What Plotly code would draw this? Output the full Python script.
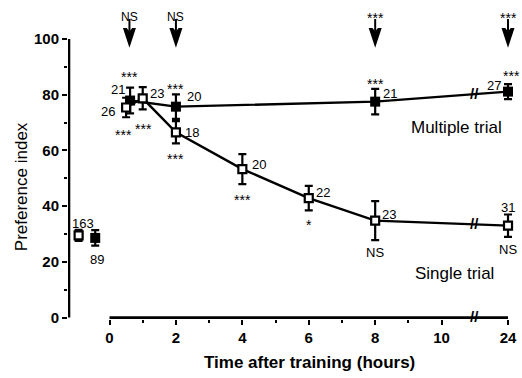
import plotly.graph_objects as go
import numpy as np

# ---------------- data ----------------
single_times = [0.5, 1, 2, 4, 6, 8, 24]
single_pi = [75.4, 78.7, 66.5, 53.3, 42.9, 34.8, 33.0]
single_err = [3.5, 4.0, 4.0, 5.4, 4.4, 7.0, 4.0]
single_n = ["26", "23", "18", "20", "22", "23", "31"]
single_sig = ["***", "***", "***", "***", "*", "NS", "NS"]

multi_times = [0.62, 2, 8, 24]
multi_pi = [77.9, 75.7, 77.5, 81.1]
multi_err = [4.6, 4.4, 4.6, 2.7]
multi_n = ["21", "20", "21", "27"]
multi_sig = ["***", "***", "***", "***"]

naive_x = [-0.93, -0.43]          # naive controls, left of the time axis
naive_pi = [29.5, 28.6]
naive_err = [2.0, 2.8]
naive_n = ["163", "89"]

compare_times = [0.6, 2, 8, 24]   # single vs multiple comparison (arrows)
compare_sig = ["NS", "NS", "***", "***"]

x_tick_hours = [0, 2, 4, 6, 8, 10, 24]
x_minor_hours = [1, 3, 5, 7, 9]
y_ticks = [0, 20, 40, 60, 80, 100]
y_minor = [10, 30, 50, 70, 90]

# ---------------- layout constants ----------------
FONT = "Liberation Sans, Arial, Helvetica, sans-serif"
BREAK_AT = 11
X_RANGE = [-1.25, 12.15]
PX_PER_UNIT = 2.79          # vertical pixels per preference-index unit
Y0_PX = 318                 # pixel row of PI = 0
TOP_MARGIN = 5
Y_MIN = -0.5
Y_MAX = (Y0_PX - TOP_MARGIN) / PX_PER_UNIT
BOTTOM_MARGIN = 378 - Y0_PX - (-Y_MIN) * PX_PER_UNIT


def pos(t):
    """broken time axis: 24 h is drawn right after 10 h"""
    return t if t <= 10 else 12


sx = [pos(t) for t in single_times]
mx = [pos(t) for t in multi_times]
cx = [pos(t) for t in compare_times]
x_end = pos(x_tick_hours[-1])

fig = go.Figure()

# axis lines (y axis stops at 100, x axis starts at 0)
fig.add_trace(go.Scatter(
    x=[X_RANGE[0] + 0.03] * 2, y=[0, y_ticks[-1]], mode="lines",
    line=dict(color="black", width=2.6), showlegend=False, hoverinfo="skip"))
fig.add_trace(go.Scatter(
    x=[0, x_end], y=[0, 0], mode="lines",
    line=dict(color="black", width=2.6), showlegend=False, hoverinfo="skip"))

err_style = dict(type="data", thickness=2.2, width=4, color="black")

fig.add_trace(go.Scatter(
    x=mx, y=multi_pi, mode="lines+markers",
    line=dict(color="black", width=2.4),
    marker=dict(symbol="square", size=10, color="black"),
    error_y=dict(array=multi_err, **err_style),
    cliponaxis=False, showlegend=False))

fig.add_trace(go.Scatter(
    x=sx, y=single_pi, mode="lines+markers",
    line=dict(color="black", width=2.4),
    marker=dict(symbol="square", size=8, color="white",
                line=dict(color="black", width=2.2)),
    error_y=dict(array=single_err, **err_style),
    cliponaxis=False, showlegend=False))

fig.add_trace(go.Scatter(
    x=[naive_x[0]], y=[naive_pi[0]], mode="markers",
    marker=dict(symbol="square", size=8, color="white",
                line=dict(color="black", width=2.2)),
    error_y=dict(array=[naive_err[0]], **err_style),
    cliponaxis=False, showlegend=False))

fig.add_trace(go.Scatter(
    x=[naive_x[1]], y=[naive_pi[1]], mode="markers",
    marker=dict(symbol="square", size=10, color="black"),
    error_y=dict(array=[naive_err[1]], **err_style),
    cliponaxis=False, showlegend=False))

# comparison arrows above the data (head, notch, stem)
n_arr = len(cx)
fig.add_trace(go.Scatter(
    x=cx, y=[96.8] * n_arr, mode="markers",
    marker=dict(symbol="arrow", angle=180, size=21, color="black",
                line=dict(width=0)),
    cliponaxis=False, showlegend=False, hoverinfo="skip"))
fig.add_trace(go.Scatter(
    x=cx, y=[104.5] * n_arr, mode="markers",
    marker=dict(symbol="triangle-down", size=10, color="white",
                line=dict(width=0)),
    cliponaxis=False, showlegend=False, hoverinfo="skip"))
fig.add_trace(go.Scatter(
    x=cx, y=[104.9] * n_arr, mode="markers",
    marker=dict(symbol="line-ns", size=9, color="black",
                line=dict(width=2, color="black")),
    cliponaxis=False, showlegend=False, hoverinfo="skip"))

annotations = []


def label(x, y, text, dx, dy, size=13, bold=False):
    annotations.append(dict(
        x=x, y=y, xref="x", yref="y", text=text, showarrow=False,
        xanchor="center", yanchor="middle",
        xshift=dx, yshift=dy,
        font=dict(family=FONT, size=size, color="black",
                  weight="bold" if bold else "normal")))


# label offsets in pixels from their point
single_n_off = [(-18, -4), (14, 5), (16, 0), (17, 5), (14, 6), (14, 6), (0, 18)]
single_sig_off = [(-3, -27), (1, -31), (0, -27), (0, -31), (0, -27), (0, -32), (0, -24)]
multi_n_off = [(-12, 11), (18, 10), (15, 8), (-14, 6)]
multi_sig_off = [(-1, 24), (0, 18), (0, 18), (3, 16)]

for x, y, t, (dx, dy) in zip(sx, single_pi, single_n, single_n_off):
    label(x, y, t, dx, dy, 13)
for x, y, t, (dx, dy) in zip(sx, single_pi, single_sig, single_sig_off):
    label(x, y, t, dx, dy, 13 if t == "NS" else 14)
for x, y, t, (dx, dy) in zip(mx, multi_pi, multi_n, multi_n_off):
    label(x, y, t, dx, dy, 13)
for x, y, t, (dx, dy) in zip(mx, multi_pi, multi_sig, multi_sig_off):
    label(x, y, t, dx, dy, 14)

label(naive_x[0], naive_pi[0], naive_n[0], 4, 12, 13)
label(naive_x[1], naive_pi[1], naive_n[1], 2, -22, 13)

for x, t in zip(cx, compare_sig):
    label(x, 100, t, 0, 22 if t == "NS" else 21, 12 if t == "NS" else 14)

# series names
label(10.45, 68.1, "Multiple trial", 0, 0, 17)
label(10.4, 15.8, "Single trial", 0, 0, 17)

# axis-break marks
break_y_single = float(np.interp(BREAK_AT, sx, single_pi))
break_y_multi = float(np.interp(BREAK_AT, mx, multi_pi))
for by in (0, break_y_single, break_y_multi):
    label(BREAK_AT, by, "//", 0, 1, 15, bold=True)

# axis titles (paper coordinates, outside the plot area)
annotations.append(dict(
    x=0.5434, y=-0.1387, xref="paper", yref="paper", showarrow=False,
    xanchor="center", yanchor="middle",
    text="Time after training (hours)",
    font=dict(family=FONT, size=17, color="black", weight="bold")))
annotations.append(dict(
    x=-0.1047, y=0.4211, xref="paper", yref="paper", showarrow=False,
    xanchor="center", yanchor="middle", textangle=-90,
    text="Preference index",
    font=dict(family=FONT, size=17, color="black")))

fig.update_layout(
    width=522, height=378,
    margin=dict(l=68, r=5, t=TOP_MARGIN, b=BOTTOM_MARGIN),
    paper_bgcolor="white", plot_bgcolor="white",
    showlegend=False,
    annotations=annotations,
    xaxis=dict(
        range=X_RANGE, showline=False, zeroline=False, showgrid=False,
        tickmode="array", tickvals=[pos(t) for t in x_tick_hours],
        ticktext=[str(t) for t in x_tick_hours],
        ticks="outside", ticklen=5, tickwidth=2, tickcolor="black",
        ticklabelstandoff=0,
        tickfont=dict(family=FONT, size=15, color="black", weight="bold"),
        minor=dict(tickmode="array", tickvals=x_minor_hours, ticks="outside",
                   ticklen=3, tickwidth=1.5, tickcolor="black", showgrid=False),
    ),
    yaxis=dict(
        range=[Y_MIN, Y_MAX], showline=False, zeroline=False, showgrid=False,
        tickmode="array", tickvals=y_ticks,
        ticks="outside", ticklen=5, tickwidth=2, tickcolor="black",
        tickfont=dict(family=FONT, size=15, color="black", weight="bold"),
        minor=dict(tickmode="array", tickvals=y_minor, ticks="outside",
                   ticklen=3, tickwidth=1.5, tickcolor="black", showgrid=False),
    ),
)

fig.write_html("out.html",
               config={"displayModeBar": False},
               post_script="document.body.style.margin='0px';"
                           "document.body.style.overflow='hidden';")
